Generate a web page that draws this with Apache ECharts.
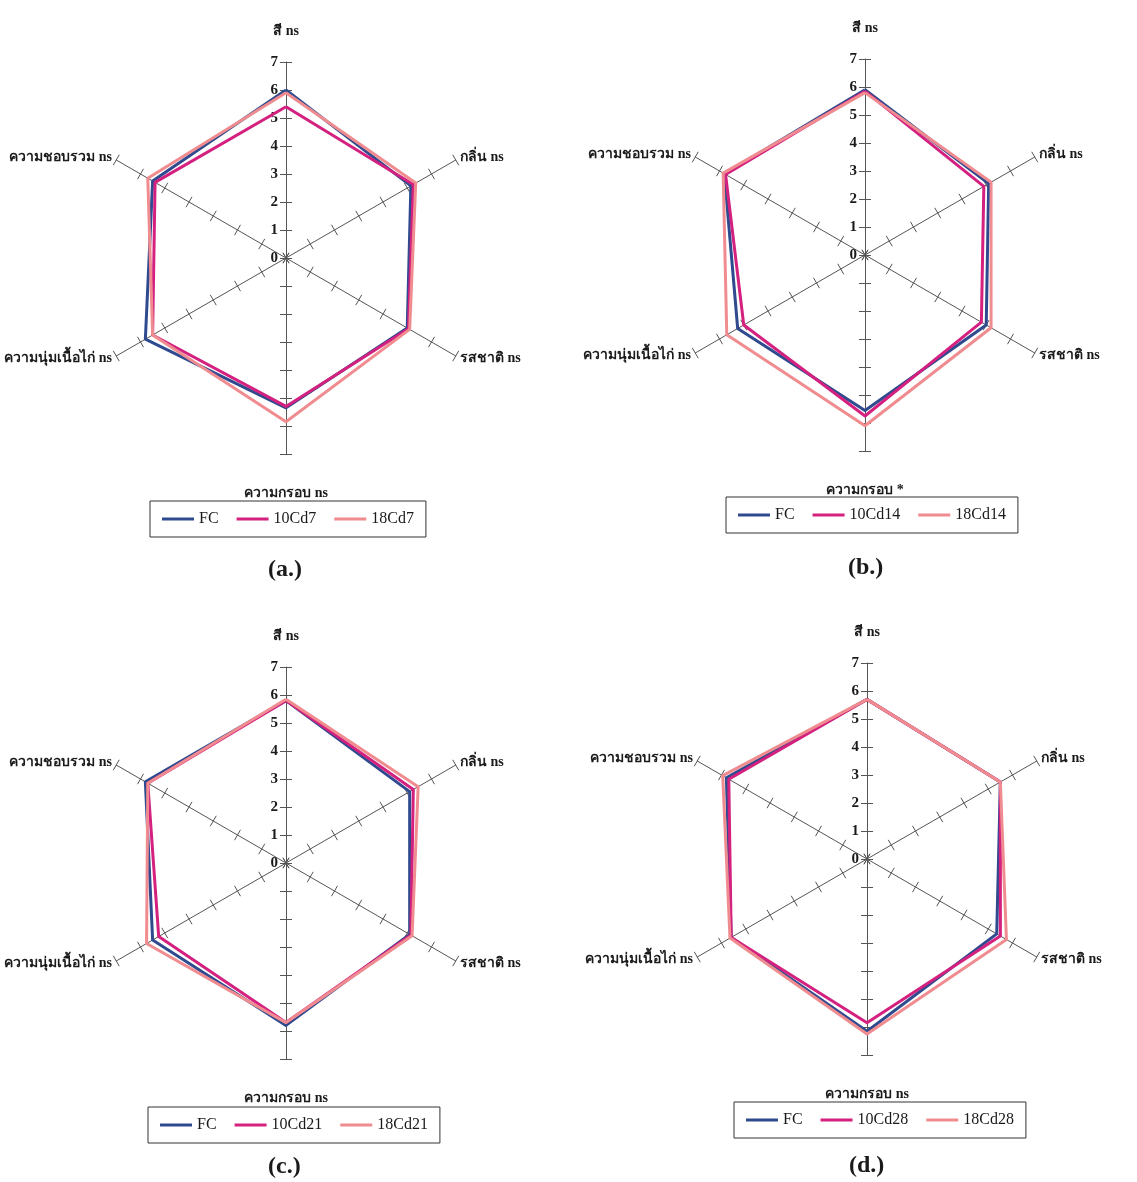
<!DOCTYPE html>
<html>
<head>
<meta charset="utf-8">
<script src="https://cdn.jsdelivr.net/npm/echarts@6/dist/echarts.min.js"></script>
<style>
  html, body { margin: 0; padding: 0; background: #fff; }
  #chart { width: 1137px; height: 1182px; }
</style>
</head>
<body>
<div id="chart"></div>
<script>
// Sensory attributes, listed clockwise starting from the top axis
const attrNames = ['สี ns', 'กลิ่น ns', 'รสชาติ ns', 'ความกรอบ ns', 'ความนุ่มเนื้อไก่ ns', 'ความชอบรวม ns'];
const attrNamesB = ['สี ns', 'กลิ่น ns', 'รสชาติ ns', 'ความกรอบ *', 'ความนุ่มเนื้อไก่ ns', 'ความชอบรวม ns'];

// Scale runs 0..7, labelled on the top axis only
const scaleMax = 7;

// Treatment names per storage day
const groupsA = ['FC', '10Cd7', '18Cd7'];
const groupsB = ['FC', '10Cd14', '18Cd14'];
const groupsC = ['FC', '10Cd21', '18Cd21'];
const groupsD = ['FC', '10Cd28', '18Cd28'];

// Mean scores, same (clockwise) attribute order as attrNames
const fcA    = [6.0, 5.15, 5.0, 5.35, 5.8, 5.5];
const cd10A  = [5.4, 5.25, 5.05, 5.3, 5.5, 5.4];
const cd18A  = [5.9, 5.35, 5.1, 5.85, 5.5, 5.7];

const fcB    = [5.9, 5.1, 5.0, 5.55, 5.25, 5.8];
const cd10B  = [5.85, 4.9, 4.8, 5.75, 5.0, 5.75];
const cd18B  = [5.8, 5.2, 5.2, 6.1, 5.7, 5.85];

const fcC    = [5.8, 5.1, 5.1, 5.8, 5.5, 5.8];
const cd10C  = [5.8, 5.25, 5.15, 5.7, 5.25, 5.7];
const cd18C  = [5.85, 5.45, 5.2, 5.7, 5.75, 5.7];

const fcD    = [5.7, 5.5, 5.35, 6.15, 5.6, 5.8];
const cd10D  = [5.7, 5.5, 5.5, 5.85, 5.6, 5.7];
const cd18D  = [5.7, 5.5, 5.75, 6.25, 5.65, 5.95];

const panelTags = ['(a.)', '(b.)', '(c.)', '(d.)'];

const colors = ['#2f4a8e', '#d4207f', '#f08c90'];
const serif = "'Liberation Serif', 'Times New Roman', serif";

// ECharts lays radar indicators out counter-clockwise; reorder clockwise lists
function ccw(arr) { return [arr[0]].concat(arr.slice(1).reverse()); }

const panels = [
  { names: attrNames,  groups: groupsA, values: [fcA, cd10A, cd18A], center: [286, 258], legendPos: [150, 501], tagPos: [268, 558] },
  { names: attrNamesB, groups: groupsB, values: [fcB, cd10B, cd18B], center: [865, 255], legendPos: [726, 497], tagPos: [848, 556] },
  { names: attrNames,  groups: groupsC, values: [fcC, cd10C, cd18C], center: [286, 863], legendPos: [148, 1107], tagPos: [268, 1155] },
  { names: attrNames,  groups: groupsD, values: [fcD, cd10D, cd18D], center: [867, 859], legendPos: [734, 1102], tagPos: [849, 1154] }
];

const R = 196;
const axisGrey = '#555555';
const radar = [], series = [], legend = [], title = [];

panels.forEach((p, i) => {
  const names = ccw(p.names);
  const indicator = names.map((n, k) => {
    const ind = { name: n, min: 0, max: scaleMax };
    if (k === 0) {
      ind.axisLabel = { show: true };
      ind.nameGap = 24;
    } else if (k === 3) {
      ind.nameGap = 32;
    }
    return ind;
  });
  // main axes: line, one half of each tick cross, names, labels on top axis
  radar.push({
    center: p.center,
    radius: R,
    startAngle: 90,
    splitNumber: scaleMax,
    shape: 'polygon',
    indicator: indicator,
    nameGap: 5,
    axisName: { color: '#1a1a1a', fontSize: 14, fontWeight: 'bold', fontFamily: serif },
    axisLine: { show: true, lineStyle: { color: axisGrey, width: 1 } },
    axisTick: { show: true, length: 6, lineStyle: { color: axisGrey, width: 1 } },
    axisLabel: { show: false, color: '#1a1a1a', fontSize: 15, fontWeight: 'bold', fontFamily: serif, margin: 8 },
    splitLine: { show: false },
    splitArea: { show: false }
  });
  // companion axes: the other half of each tick cross
  radar.push({
    center: p.center,
    radius: R,
    startAngle: 90,
    splitNumber: scaleMax,
    shape: 'polygon',
    indicator: names.map(n => ({ name: n, min: 0, max: scaleMax })),
    axisName: { show: false },
    axisLine: { show: false },
    axisTick: { show: true, length: -6, lineStyle: { color: axisGrey, width: 1 } },
    axisLabel: { show: false },
    splitLine: { show: false },
    splitArea: { show: false }
  });

  series.push({
    type: 'radar',
    radarIndex: i * 2,
    symbol: 'none',
    data: p.groups.map((g, j) => ({
      name: g,
      value: ccw(p.values[j]),
      lineStyle: { color: colors[j], width: 3 },
      itemStyle: { color: colors[j] }
    }))
  });

  legend.push({
    data: p.groups,
    left: p.legendPos[0],
    top: p.legendPos[1],
    orient: 'horizontal',
    icon: 'rect',
    itemWidth: 32,
    itemHeight: 3,
    itemGap: 18,
    padding: [10, 12, 10, 12],
    borderColor: '#333',
    borderWidth: 1,
    selectedMode: false,
    textStyle: { color: '#1a1a1a', fontSize: 16, fontFamily: serif }
  });

  title.push({
    text: panelTags[i],
    left: p.tagPos[0],
    top: p.tagPos[1],
    padding: 0,
    textStyle: { fontSize: 24, fontWeight: 'bold', fontFamily: serif, color: '#1a1a1a' }
  });
});

const chart = echarts.init(document.getElementById('chart'), null, { renderer: 'canvas' });
chart.setOption({
  backgroundColor: '#ffffff',
  animation: false,
  title: title,
  legend: legend,
  radar: radar,
  series: series
});
</script>
</body>
</html>
